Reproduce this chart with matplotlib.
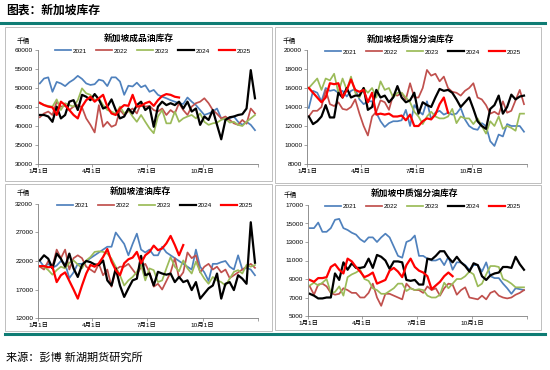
import numpy as np
import matplotlib
matplotlib.use("Agg")
import matplotlib.pyplot as plt
from matplotlib.patches import Rectangle
from matplotlib.lines import Line2D

plt.rcParams['font.family'] = ['Liberation Sans', 'Noto Sans CJK SC']

years = ['2021', '2022', '2023', '2024', '2025']
colors = ['#4F81BD', '#C0504D', '#9BBB59', '#000000', '#FF0000']
widths = [1.25, 1.25, 1.25, 1.6, 1.6]

tick_days = [0, 90, 181, 273, 365]
tick_labels = ['1月1日', '4月1日', '7月1日', '10月1日', '']

# 新加坡成品油库存 (千桶), weekly
prod_2021 = [51200, 52500, 52800, 49000, 51600, 51200, 50500, 51500, 52200, 53200,
             52400, 51200, 50800, 51000, 52200, 51900, 50500, 52800, 52800, 51700,
             48200, 50600, 50400, 51400, 50200, 50700, 49000, 49500, 48200, 47700,
             47300, 46800, 46400, 46000, 45800, 47500, 46400, 45500, 44200, 42900,
             43300, 43800, 44600, 42000, 41600, 42000, 42500, 41100, 40300, 41100,
             40300, 38900]
prod_2022 = [42300, 43300, 43800, 42900, 46400, 45100, 45300, 44200, 45100, 45500,
             44900, 42000, 40300, 38300, 45500, 39800, 41100, 39800, 40300, 44200,
             42900, 43900, 44600, 43300, 46000, 45100, 45300, 44200, 43800, 44600,
             42900, 44200, 43300, 46000, 44200, 42900, 45100, 46000, 46400, 47300,
             46000, 44200, 43200, 42000, 42500, 41600, 40700, 40300, 41600, 40600,
             44600, 43300]
prod_2023 = [46000, 45500, 45300, 45100, 47000, 44200, 46000, 45500, 45100, 46800,
             49900, 48600, 48200, 46800, 47300, 45500, 44200, 43800, 43200, 45100,
             43300, 44200, 42500, 41100, 42900, 41100, 39400, 38100, 42500, 44200,
             40700, 40700, 43800, 41100, 42000, 42500, 42900, 42000, 43300, 41100,
             40300, 40700, 40900, 41600, 42000, 40900, 41100, 40300, 40000, 41100,
             42000, 42900]
prod_2024 = [42900, 42900, 42500, 41100, 45100, 42000, 42900, 46400, 46800, 44200,
             48200, 47700, 46800, 48400, 47000, 44600, 45100, 47000, 44200, 42000,
             42500, 44600, 43300, 45500, 46400, 44200, 45100, 39800, 45100, 46400,
             45500, 46000, 45500, 46400, 44600, 46400, 43800, 44600, 40300, 42500,
             41600, 44200, 40300, 36500, 41600, 42300, 42500, 42900, 43100, 44600,
             54700, 47300]
prod_2025 = [46100, 45500, 45100, 44900, 42900, 46400, 45500, 44200, 42900, 42000,
             45100, 46800, 47700, 46400, 47300, 48200, 45100, 43300, 42900, 44600,
             45500, 45300, 48200, 45100, 45300, 46000, 46400, 45300, 46800, 47900,
             48400, 48200, 47700, 47500]

# 新加坡轻质馏分油库存
light_2021 = [13900, 15700, 15500, 14600, 16000, 15700, 15800, 15500, 15700, 15100,
              15700, 15900, 14800, 14300, 14600, 14600, 13400, 12500, 11900, 12300,
              12500, 12500, 12600, 13700, 12000, 14200, 13600, 13200, 14600, 12700,
              13400, 13600, 13200, 13400, 13200, 13300, 13900, 12700, 12000, 11700,
              11600, 12300, 12000, 10400, 9900, 11100, 10900, 12200, 12000, 12000,
              12000, 11400]
light_2022 = [13000, 13600, 13600, 14000, 15800, 14300, 14100, 14500, 13800, 13700,
              14000, 14800, 13300, 12000, 11000, 13000, 13500, 14700, 14500, 13700,
              15300, 15200, 15500, 14800, 16500, 15000, 15000, 16000, 17900, 17300,
              17500, 16700, 17200, 16000, 15600, 15500, 15200, 15700, 16000, 16500,
              15000, 14800, 14200, 13300, 13500, 13200, 14600, 13400, 13600, 14700,
              15800, 14300]
light_2023 = [16000, 16500, 17000, 15800, 17000, 16800, 17500, 15500, 17000, 15800,
              17200, 15500, 15000, 16000, 15500, 16000, 15000, 16700, 15800, 16000,
              15000, 15500, 15500, 15000, 14500, 13500, 13000, 12200, 13000, 13500,
              13000, 12800, 12800, 13000, 13800, 12300, 13000, 12800, 12800, 12200,
              12800, 12000, 11200, 12500, 12000, 13000, 11700, 12000, 11800, 11500,
              13300, 13300]
light_2024 = [13000, 12200, 12500, 13000, 14200, 12900, 12900, 15500, 15000, 16000,
              15000, 15200, 15200, 16000, 13700, 14000, 15800, 15000, 15200, 14500,
              15000, 16200, 15000, 14500, 14700, 15500, 13300, 14500, 14200, 14000,
              15000, 15900, 15700, 15800, 15500, 14800, 14000, 14500, 15000, 13800,
              12500, 12000, 11700, 13800, 14200, 15200, 13300, 14000, 15300, 14800,
              15100, 15200]
light_2025 = [16000, 15500, 15000, 14500, 15000, 16500, 16400, 16500, 15000, 15800,
              16900, 15800, 15600, 15800, 14500, 15500, 13200, 13300, 13200, 13300,
              13000, 13000, 13100, 12600, 13200, 12000, 12000, 12500, 12800, 12700,
              13200, 14300, 15000, 13400]

# 新加坡渣油库存
fuel_2021 = [22000, 21000, 21500, 20800, 21200, 22000, 21500, 19000, 20000, 21500,
             21500, 22000, 22500, 23000, 23500, 24000, 24500, 24500, 27000, 26000,
             25000, 23000, 25000, 26800, 24000, 23500, 24000, 23000, 23000, 24500,
             23500, 23000, 22500, 22000, 21500, 21000, 20500, 24000, 21000, 20000,
             18500, 21500, 21500, 21800, 22000, 21000, 20500, 23000, 20500, 20800,
             20500, 19500]
fuel_2022 = [21000, 20500, 22000, 21000, 24000, 22500, 24000, 20500, 22500, 23000,
             22500, 21000, 20500, 20000, 21500, 19500, 20500, 17500, 20500, 21000,
             21000, 21500, 20500, 19500, 21000, 21500, 20000, 17500, 18000, 17000,
             18500, 20000, 22500, 19000, 20000, 23500, 22500, 23000, 20000, 21000,
             21500, 20500, 21000, 20000, 20500, 19000, 19500, 20000, 20500, 21000,
             21500, 20800]
fuel_2023 = [21100, 21000, 20400, 19600, 20400, 21000, 20700, 21700, 22100, 21400,
             20700, 22100, 22700, 23600, 23700, 23600, 23300, 22400, 21000, 19500,
             17700, 18600, 19200, 20100, 21300, 18600, 20700, 20400, 18300, 18600,
             20700, 22700, 21000, 20200, 22100, 20700, 19800, 21900, 20100, 18900,
             18000, 19200, 18600, 18300, 17700, 18900, 20100, 20400, 19800, 21300,
             21000, 21300]
fuel_2024 = [22100, 23000, 22400, 20700, 23300, 22400, 21000, 23300, 20700, 19200,
             21300, 22000, 21800, 21400, 21300, 22100, 18600, 17700, 20700, 17700,
             15700, 17200, 18600, 18900, 22900, 19500, 19800, 17700, 20100, 19800,
             19600, 19800, 18300, 19200, 18300, 18600, 16900, 18300, 15400, 16300,
             17200, 17700, 19800, 15400, 18000, 18300, 16900, 19500, 18900, 18000,
             28800, 21700]
fuel_2025 = [21100, 21100, 20900, 21000, 18300, 19500, 20000, 18500, 17000, 15400,
             17700, 19800, 21300, 21000, 21600, 22700, 24100, 21900, 20400, 19500,
             21600, 22300, 22600, 23600, 21600, 23000, 23600, 24700, 23900, 24200,
             25100, 26400, 24800, 23000, 24800]

# 新加坡中质馏分油库存
mid_2021 = [14500, 14500, 15100, 14100, 14100, 14500, 15400, 15500, 14500, 14300,
            14000, 13800, 13300, 13000, 13500, 13500, 13000, 13500, 13900, 13500,
            12500, 11500, 11300, 13000, 13200, 13700, 11500, 11500, 11200, 11000,
            11000, 11200, 10500, 11400, 10000, 10800, 10800, 10500, 10000, 10500,
            10500, 9800, 10800, 9300, 9100, 9100, 8500, 8000, 7400, 8000,
            7900, 7800]
mid_2022 = [8200, 7300, 8400, 8500, 8200, 7500, 7300, 7400, 8000, 7800,
            7500, 7500, 7000, 7000, 7500, 8500, 7000, 6100, 7400, 7400,
            7200, 7000, 6800, 8500, 8000, 7800, 7800, 7500, 8200, 7800,
            8000, 7200, 8000, 8500, 8400, 7300, 7800, 8100, 7000, 6900,
            6800, 7200, 6800, 7500, 7700, 7200, 7000, 6900, 7000, 7300,
            7500, 7800]
mid_2023 = [8300, 8600, 8300, 8600, 9000, 7500, 7600, 8200, 7200, 9200,
            9500, 9700, 10000, 9000, 8800, 8000, 7800, 7400, 7400, 7700,
            8000, 8500, 8500, 7700, 8000, 7800, 7900, 7800, 7200, 7000,
            7000, 7300, 8600, 8000, 8500, 9000, 9000, 9300, 9800, 9500,
            8200, 8500, 9500, 10400, 10400, 10300, 9000, 8800, 8500, 8100,
            8100, 8100]
mid_2024 = [7400, 7200, 6900, 6900, 7000, 7000, 9600, 8900, 10800, 10000,
            10700, 10200, 10200, 10300, 11200, 10200, 11600, 11400, 11000, 10100,
            10900, 10900, 10800, 8900, 8800, 8900, 8400, 8400, 11200, 11100,
            11500, 12000, 12000, 11300, 10800, 11400, 10800, 10400, 9800, 10700,
            10500, 9300, 8900, 9400, 9600, 9700, 10300, 10300, 10200, 11400,
            10600, 10000]
mid_2025 = [8900, 8700, 9100, 9100, 9200, 10300, 10600, 10000, 9600, 11200,
            10900, 10300, 9800, 9200, 9400, 9700, 8500, 8700, 8900, 9900,
            10200, 9800, 9200, 10500, 11200, 10300, 9900, 9700, 9300, 7900,
            8300, 8700, 9300, 9700, 9300]

W, H = 550, 370
fig = plt.figure(figsize=(W / 100, H / 100), dpi=100)


def fx(px):
    return px / W


def fy(py):
    return 1 - py / H


def panel(box, title, series, ylim, ystep, title_xy, unit_xy, legend_xy):
    x0, y0, x1, y1 = box
    ax = fig.add_axes([fx(x0), fy(y1), fx(x1) - fx(x0), fy(y0) - fy(y1)])
    for vals, yr, c, lw in zip(series, years, colors, widths):
        days = 3 + 7 * np.arange(len(vals))
        ax.plot(days, vals, color=c, lw=lw, label=yr)
    ax.set_xlim(0, 365)
    ax.set_ylim(*ylim)
    ax.set_yticks(np.arange(ylim[0], ylim[1] + 1, ystep))
    ax.set_xticks(tick_days)
    ax.set_xticklabels(tick_labels)
    for s in ['top', 'right']:
        ax.spines[s].set_visible(False)
    for s in ['left', 'bottom']:
        ax.spines[s].set_color('#7F7F7F')
        ax.spines[s].set_linewidth(0.6)
    ax.tick_params(labelsize=4.6, length=2, width=0.5, color='#7F7F7F', pad=1.5)
    ax.patch.set_alpha(0)
    fig.text(fx(title_xy[0]), fy(title_xy[1]), title, ha='center', va='center',
             fontsize=6.3, fontweight='bold')
    fig.text(fx(unit_xy[0]), fy(unit_xy[1]), '千桶', ha='center', va='center', fontsize=4.8)
    ax.legend(ncol=5, loc='center', bbox_to_anchor=(fx(legend_xy[0]), fy(legend_xy[1])),
              bbox_transform=fig.transFigure, frameon=False, fontsize=4.6,
              handlelength=2.6, handletextpad=0.3, columnspacing=1.3, borderpad=0)
    return ax


# panel frames
for (a, b, c, d) in [(5, 27, 272, 181), (275, 27, 541, 183), (5, 184, 272, 331), (275, 185, 541, 330)]:
    fig.patches.append(Rectangle((fx(a), fy(d)), fx(c) - fx(a), fy(b) - fy(d),
                                 transform=fig.transFigure, fill=False,
                                 edgecolor='#BFBFBF', lw=0.7))

panel((38, 50, 258, 164), '新加坡成品油库存',
      [prod_2021, prod_2022, prod_2023, prod_2024, prod_2025],
      (30000, 60000), 5000, (139, 38), (23, 41), (153, 51))
panel((307, 50, 527, 164), '新加坡轻质馏分油库存',
      [light_2021, light_2022, light_2023, light_2024, light_2025],
      (8000, 20000), 2000, (410, 39), (289, 42), (423, 52))
panel((38, 204, 258, 318), '新加坡渣油库存',
      [fuel_2021, fuel_2022, fuel_2023, fuel_2024, fuel_2025],
      (12000, 32000), 5000, (140, 191), (23, 194), (155, 205))
panel((308, 205, 527, 316), '新加坡中质馏分油库存',
      [mid_2021, mid_2022, mid_2023, mid_2024, mid_2025],
      (5000, 17000), 2000, (414, 193), (290, 196), (423, 206))

# header and footer
fig.text(fx(6), fy(11), '图表：新加坡库存', ha='left', va='center', fontsize=8.5, fontweight='bold')
fig.add_artist(Line2D([0, fx(545)], [fy(22.5), fy(22.5)], color='#0E7C74', lw=2.2,
                      transform=fig.transFigure))
fig.add_artist(Line2D([fx(5), fx(545)], [fy(334), fy(334)], color='#0E7C74', lw=2.2,
                      transform=fig.transFigure))
fig.text(fx(6), fy(357), '来源：彭博 新湖期货研究所', ha='left', va='center', fontsize=8)

fig.savefig('out.png', dpi=100)
